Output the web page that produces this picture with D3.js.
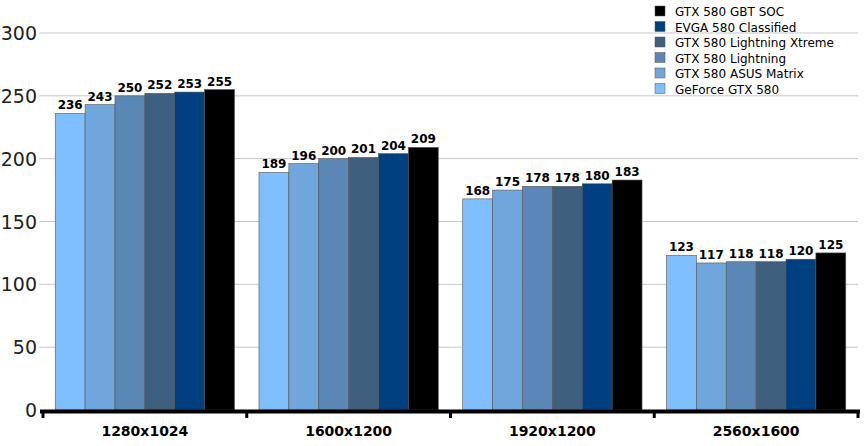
<!DOCTYPE html>
<html><head><meta charset="utf-8">
<script src="https://cdn.jsdelivr.net/npm/d3@7"></script>
<style>body{margin:0;background:#fff;font-family:"DejaVu Sans",Verdana,sans-serif}</style>
</head><body><div id="chart"></div>
<script>
var categories = ["1280x1024", "1600x1200", "1920x1200", "2560x1600"];
var seriesNames = ["GeForce GTX 580", "GTX 580 ASUS Matrix", "GTX 580 Lightning", "GTX 580 Lightning Xtreme", "EVGA 580 Classified", "GTX 580 GBT SOC"];
var seriesColors = ["#80bfff", "#6fa6dc", "#5a87b5", "#3f5f7f", "#003f80", "#000000"];
var geforce = [236, 189, 168, 123];
var asus = [243, 196, 175, 117];
var lightning = [250, 200, 178, 118];
var xtreme = [252, 201, 178, 118];
var evga = [253, 204, 180, 120];
var gbt = [255, 209, 183, 125];
var yTicks = [0, 50, 100, 150, 200, 250, 300];

var series = [geforce, asus, lightning, xtreme, evga, gbt];
var margin = {top: 33, right: 10, bottom: 36, left: 43};
var W = 868, H = 446;
var width = W - margin.left - margin.right;
var height = H - margin.top - margin.bottom;

var svg = d3.select("#chart").append("svg").attr("width", W).attr("height", H)
  .append("g").attr("transform", "translate(" + margin.left + "," + margin.top + ")");

var y = d3.scaleLinear().domain([0, 300]).range([height, 0]);
var x0 = d3.scaleBand().domain(categories).range([0, width]).paddingInner(0.12).paddingOuter(0.06);
var x1 = d3.scaleBand().domain(d3.range(series.length)).range([0, x0.bandwidth()]);
var xb = d3.scaleBand().domain(categories).range([0, width]);

// grid
svg.selectAll(".grid").data(yTicks.slice(1)).enter().append("line")
  .attr("x1", -4).attr("x2", width).attr("y1", d => y(d)).attr("y2", d => y(d))
  .attr("stroke", "#c8c8c8");

svg.selectAll(".ylab").data(yTicks).enter().append("text")
  .attr("x", -6).attr("y", d => y(d) + 7).attr("text-anchor", "end")
  .style("font-size", "19px").attr("fill", "#222").text(d => d);

var g = svg.selectAll(".grp").data(categories).enter().append("g")
  .attr("transform", d => "translate(" + x0(d) + ",0)");
g.each(function(c, ci) {
  var sel = d3.select(this);
  series.forEach(function(s, si) {
    sel.append("rect").attr("x", x1(si)).attr("y", y(s[ci])).attr("width", x1.bandwidth())
      .attr("height", height - y(s[ci])).attr("fill", seriesColors[si]).attr("stroke", "#555").attr("stroke-width", 0.6);
    sel.append("text").attr("x", x1(si) + x1.bandwidth() / 2).attr("y", y(s[ci]) - 4)
      .attr("text-anchor", "middle").style("font-size", "12px").style("font-weight", "bold").text(s[ci]);
  });
});

// x axis
svg.append("line").attr("x1", -3).attr("x2", width + 2).attr("y1", height + 1.5).attr("y2", height + 1.5)
  .attr("stroke", "#000").attr("stroke-width", 4);
svg.selectAll(".xt").data(categories.concat(["end"])).enter().append("line")
  .attr("x1", (d, i) => i * xb.bandwidth()).attr("x2", (d, i) => i * xb.bandwidth())
  .attr("y1", height).attr("y2", height + 8).attr("stroke", "#000").attr("stroke-width", 3);
svg.selectAll(".xl").data(categories).enter().append("text")
  .attr("x", d => xb(d) + xb.bandwidth() / 2).attr("y", height + 26).attr("text-anchor", "middle")
  .style("font-size", "14px").style("font-weight", "bold").text(d => d);

// legend
var leg = d3.select("svg").append("g").attr("transform", "translate(655,5)");
var order = d3.range(series.length).reverse();
order.forEach(function(si, i) {
  leg.append("rect").attr("x", 0).attr("y", i * 15.5 + 1).attr("width", 10).attr("height", 10)
    .attr("fill", seriesColors[si]).attr("stroke", "#555").attr("stroke-width", 0.5);
  leg.append("text").attr("x", 20).attr("y", i * 15.5 + 11).style("font-size", "12px").text(seriesNames[si]);
});
</script></body></html>
